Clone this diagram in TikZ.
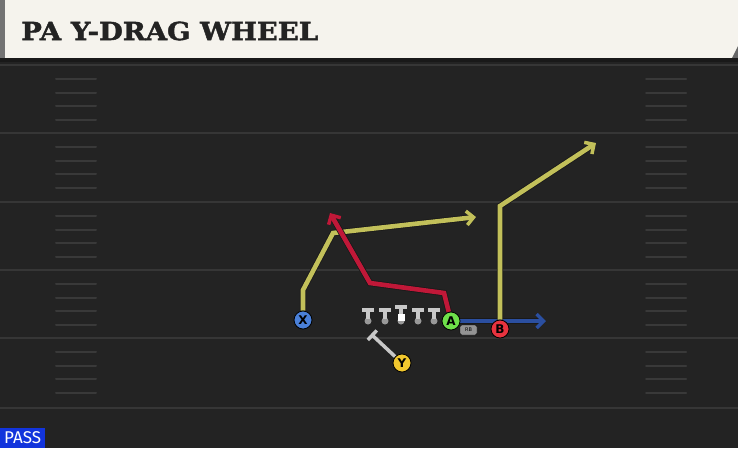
\documentclass[tikz,border=0pt]{standalone}
\usepackage{fontspec}
\setmainfont{DejaVu Sans}
\newfontfamily\titlefont[BoldFeatures={FakeBold=1.5}]{DejaVu Serif}
\newfontfamily\passfont{Fira Sans}
\usetikzlibrary{arrows.meta}

\definecolor{field}{HTML}{232323}
\definecolor{yardgrey}{HTML}{363636}
\definecolor{hashgrey}{HTML}{393939}
\definecolor{cream}{HTML}{F5F3ED}
\definecolor{routeyellow}{HTML}{C2C05A}
\definecolor{routered}{HTML}{C01838}
\definecolor{routeblue}{HTML}{2B4FA0}
\definecolor{blockgrey}{HTML}{C8C8C8}
\definecolor{xblue}{HTML}{4A80D8}
\definecolor{agreen}{HTML}{6EE04A}
\definecolor{bred}{HTML}{E8333F}
\definecolor{yyellow}{HTML}{F2C82E}
\definecolor{passblue}{HTML}{1234DC}

\pgfdeclarelayer{fieldlayer}
\pgfdeclarelayer{routelayer}
\pgfsetlayers{fieldlayer,routelayer,main}

\tikzset{
  route/.style={draw=#1, line width=4.6pt, line join=miter,
    -{Straight Barb[length=7pt,width=14pt,line width=3.5pt]},
    preaction={draw=black!90, line width=6.2pt}},
  player/.style={circle, draw=black, line width=0.8pt, fill=#1,
    minimum size=18pt, inner sep=0pt, font=\bfseries\fontsize{12}{12}\selectfont},
  lineman/.style={fill=blockgrey},
  yardline/.style={draw=yardgrey, line width=2pt},
  hash/.style={draw=hashgrey, line width=2pt, line cap=round},
}

\begin{document}
\begin{tikzpicture}[x=1pt, y=-1pt]
  \useasboundingbox (0,0) rectangle (738,448);
  % field and header
  \begin{pgfonlayer}{fieldlayer}
    \fill[field] (0,0) rectangle (738,448);
    \fill[cream] (5,0) rectangle (738,58);
    \fill[black!55] (0,0) rectangle (5,58);
    \fill[black!60] (732,58) -- (738,58) -- (738,46) -- cycle;
    \fill[black!90] (0,58) rectangle (738,62);
    \foreach \y in {65,133,202,270,338,408}
      \draw[yardline] (0,\y) -- (738,\y);
    \foreach \y in {65,133,202,270,338}
      \foreach \d in {14,28,41,55} {
        \draw[hash] (56,\y+\d) -- (96,\y+\d);
        \draw[hash] (646,\y+\d) -- (686,\y+\d);
      }
  \end{pgfonlayer}
  \node[anchor=west, inner sep=0pt, text=field] (title) at (21,31)
    {\resizebox{297pt}{18.5pt}{\titlefont\bfseries PA Y-DRAG WHEEL}};
  \node[anchor=south west, fill=passblue, text=white, inner sep=0pt,
    minimum width=45pt, minimum height=20pt,
    font=\passfont\fontsize{17}{17}\selectfont] (pass) at (0,448) {PASS};

  % line
  \foreach \x in {368,385,418,434} {
    \fill[black!40] (\x,321) circle (3.5);
    \fill[lineman] (\x-6,308) rectangle (\x+6,312);
    \fill[lineman] (\x-2,312) rectangle (\x+2,319);
  }
  \fill[black!40] (401,321) circle (3.5);
  \fill[lineman] (395,305) rectangle (407,309);
  \fill[lineman] (399,309) rectangle (403,314);
  \fill[white] (397.5,314) rectangle (404.5,321);

  % players
  \node[player=xblue] (X) at (303,320) {X};
  \node[player=agreen] (A) at (451,321) {A};
  \node[player=bred] (B) at (500,329) {B};
  \node[player=yyellow] (Y) at (402,363) {Y};
  \node[draw=black, fill=black!42, rounded corners=2pt, inner sep=0pt,
    minimum width=17pt, minimum height=10pt,
    font=\fontsize{5}{5}\selectfont] (rb) at (468.5,330) {RB};

  \coordinate (xend) at (476,217);
  \coordinate (aend) at (330,213);
  \coordinate (rbend) at (546,321);
  \coordinate (bend) at (596,143);
  \coordinate (yend) at (371,334);

  % routes
  \begin{pgfonlayer}{routelayer}
    \draw[route=routeblue] (A) -- (rbend);
    \draw[route=routeyellow] (B) -- (500,206) -- (bend);
    \draw[route=routeyellow] (X) -- (303,290) -- (333,233) -- (xend);
    \draw[route=routered] (A) -- (444,293) -- (370,283) -- (aend);
    \draw[draw=blockgrey, line width=3.5pt,
      -{Bar[width=13pt,line width=3.5pt]}] (Y) -- (yend);
  \end{pgfonlayer}
\end{tikzpicture}
\end{document}
